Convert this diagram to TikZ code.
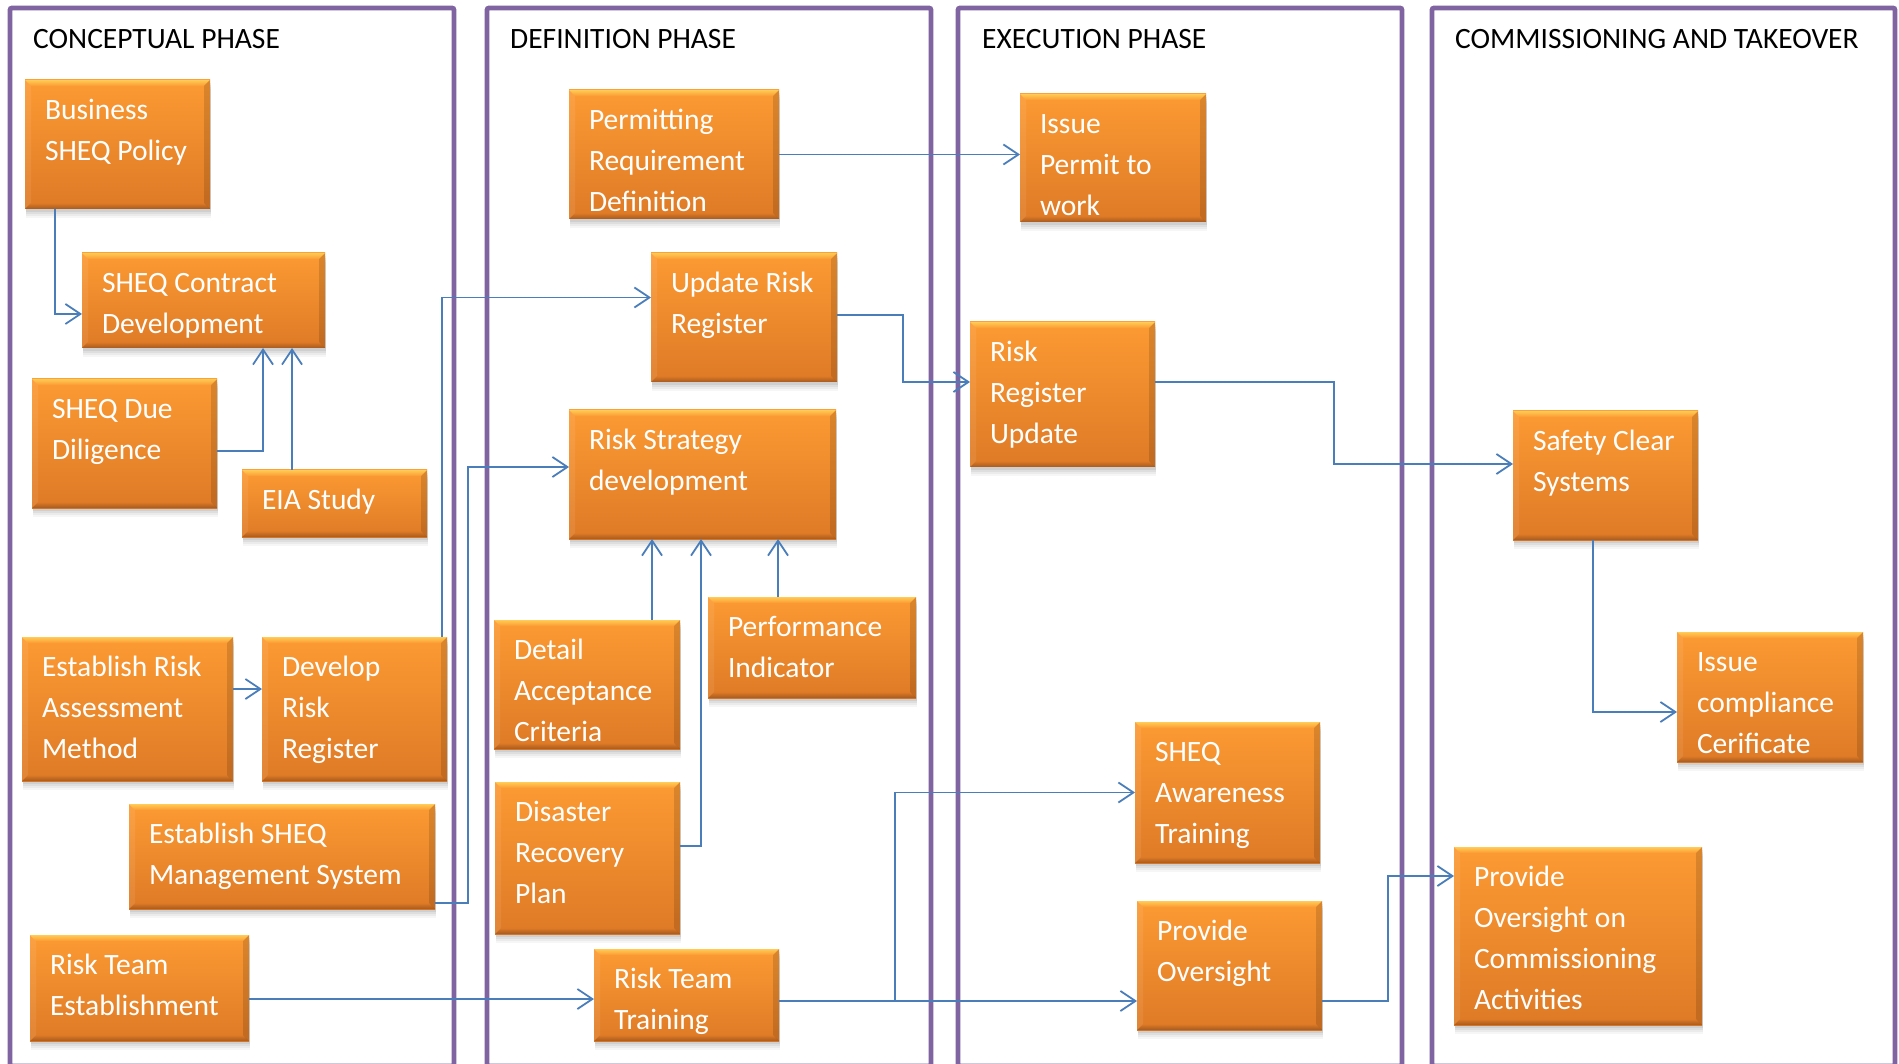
\documentclass[tikz,border=0pt]{standalone}
\usepackage{fontspec}
\setmainfont{Carlito}
\usetikzlibrary{arrows.meta,fit}

\definecolor{phase}{HTML}{8064A2}
\definecolor{flowblue}{HTML}{4A7EBB}
\definecolor{orTop}{HTML}{FC9A33}
\definecolor{orBot}{HTML}{DE7A26}
\definecolor{bevHi}{HTML}{FFCB55}
\definecolor{bevLo}{HTML}{A65A1E}

\tikzset{
  phaseframe/.style={draw=phase, line width=4.8pt, rounded corners=2pt},
  phasetitle/.style={anchor=base west, inner sep=0pt, font=\fontsize{29.5}{35}\selectfont, text=black},
  stagefill/.style={inner sep=0pt, outer sep=0pt, top color=orTop, bottom color=orBot, draw=none},
  stagetext/.style={anchor=north west, inner sep=0pt, outer sep=0pt, align=left, text=white,
    font=\fontsize{29.5}{41}\selectfont, yshift=-14.5pt},
  flowline/.style={draw=flowblue, line width=1.8pt, -{Straight Barb[length=15pt,width=20pt]}},
}

% orange bevelled step box: name, x1, y1, x2, y2, text
\newcommand\stagebox[6]{%
  \foreach \sd/\so in {9/0.035, 7/0.045, 5/0.055, 3/0.065}{%
    \fill[black, opacity=\so] (#2+1, #3+\sd) rectangle (#4+1, #5+\sd);
  }
  \node[stagefill, fit={(#2,#3) (#4,#5)}] (#1) {};
  \shade[top color=bevHi, bottom color=orTop] (#2,#3) -- (#4,#3) -- (#4-6,#3+6) -- (#2+6,#3+6) -- cycle;
  \shade[top color=orBot, bottom color=bevLo] (#2,#5) -- (#4,#5) -- (#4-6,#5-6) -- (#2+6,#5-6) -- cycle;
  \fill[black, opacity=0.13] (#4,#3) -- (#4,#5) -- (#4-6,#5-6) -- (#4-6,#3+6) -- cycle;
  \fill[white, opacity=0.08] (#2,#3) -- (#2,#5) -- (#2+6,#5-6) -- (#2+6,#3+6) -- cycle;
  \node[stagetext] (#1-t) at (#2+20, #3) {\rule{0pt}{25pt}#6};
}

\begin{document}
\begin{tikzpicture}[x=1pt, y=-1pt]
  \useasboundingbox (0,0) rectangle (1899,1064);
  \fill[white] (0,0) rectangle (1899,1064);

  % phase columns
  \draw[phaseframe] (10,8) rectangle (454,1066);
  \draw[phaseframe] (487,8) rectangle (931,1066);
  \draw[phaseframe] (958,8) rectangle (1402,1066);
  \draw[phaseframe] (1432,8) rectangle (1895,1066);

  \node[phasetitle] (title-c) at (33,49) {CONCEPTUAL PHASE};
  \node[phasetitle] (title-d) at (510,49) {DEFINITION PHASE};
  \node[phasetitle] (title-e) at (982,49) {EXECUTION PHASE};
  \node[phasetitle] (title-t) at (1455,49) {COMMISSIONING AND TAKEOVER};

  % conceptual phase
  \stagebox{bsp}{25}{80}{210}{209}{Business\\SHEQ Policy}
  \stagebox{scd}{82}{253}{325}{348}{SHEQ Contract\\Development}
  \stagebox{dsd}{32}{379}{217}{508}{SHEQ Due\\Diligence}
  \stagebox{eia}{242}{470}{427}{537}{EIA Study}
  \stagebox{eram}{22}{637}{233}{781}{Establish Risk\\Assessment\\Method}
  \stagebox{drr}{262}{637}{447}{781}{Develop\\Risk\\Register}
  \stagebox{esms}{129}{804}{435}{909}{Establish SHEQ\\Management System}
  \stagebox{rte}{30}{935}{249}{1041}{Risk Team\\Establishment}

  % definition phase
  \stagebox{prd}{569}{90}{779}{219}{Permitting\\Requirement\\Definition}
  \stagebox{urr}{651}{253}{837}{382}{Update Risk\\Register}
  \stagebox{rsd}{569}{410}{836}{539}{Risk Strategy\\development}
  \stagebox{dac}{494}{620}{680}{749}{Detail\\Acceptance\\Criteria}
  \stagebox{pi}{708}{597}{916}{698}{Performance\\Indicator}
  \stagebox{drp}{495}{782}{680}{934}{Disaster\\Recovery\\Plan}
  \stagebox{rtt}{594}{949}{779}{1041}{Risk Team\\Training}

  % execution phase
  \stagebox{ipw}{1020}{94}{1206}{222}{Issue\\Permit to\\work}
  \stagebox{rru}{970}{322}{1155}{467}{Risk\\Register\\Update}
  \stagebox{sat}{1135}{722}{1320}{863}{SHEQ\\Awareness\\Training}
  \stagebox{po}{1137}{901}{1322}{1030}{Provide\\Oversight}

  % commissioning and takeover
  \stagebox{scs}{1513}{411}{1698}{540}{Safety Clear\\Systems}
  \stagebox{icc}{1677}{632}{1863}{762}{Issue\\compliance\\Cerificate}
  \stagebox{poca}{1454}{847}{1702}{1025}{Provide\\Oversight on\\Commissioning\\Activities}

  % connectors
  \draw[flowline] ([xshift=30pt]bsp.south west) |- ([yshift=-13.5pt]scd.west);
  \draw[flowline] ([yshift=-7.5pt]dsd.east) -| ([xshift=-62pt]scd.south east);
  \draw[flowline] ([xshift=50pt]eia.north west) -- ([xshift=-33pt]scd.south east);
  \draw[flowline] ([yshift=20pt]eram.east) -- ([yshift=20pt]drr.west);
  \draw[flowline] ([xshift=-5pt]drr.north east) |- ([yshift=20pt]urr.west);
  \draw[flowline] ([yshift=-46.5pt]esms.east) -- ++(33,0) |- ([yshift=7.5pt]rsd.west);
  \draw[flowline] ([xshift=-28pt]dac.north east) -- ([xshift=83pt]rsd.south west);
  \draw[flowline] ([yshift=12pt]drp.east) -| ([xshift=132pt]rsd.south west);
  \draw[flowline] ([xshift=70pt]pi.north west) -- ([xshift=-58pt]rsd.south east);
  \draw[flowline] ([yshift=-11pt]rte.east) coordinate (rte-out) -- (rte-out -| rtt.west);
  \draw[flowline] (prd.east) coordinate (prd-out) -- (prd-out -| ipw.west);
  \draw[flowline] ([yshift=2.5pt]urr.east) -- ++(66,0) |- ([yshift=12.5pt]rru.west);
  \draw[flowline] ([yshift=12.5pt]rru.east) -- ++(179,0) |- ([yshift=11.5pt]scs.west);
  \draw[flowline] ([xshift=80pt]scs.south west) |- ([yshift=-15pt]icc.west);
  \draw[flowline] ([yshift=-6pt]rtt.east) coordinate (rtt-out) -- ++(116,0) |- (sat.west);
  \draw[flowline] (rtt-out) -- (rtt-out -| po.west);
  \draw[flowline] ([yshift=-35.5pt]po.east) -- ++(66,0) |- ([yshift=60pt]poca.west);
\end{tikzpicture}
\end{document}
